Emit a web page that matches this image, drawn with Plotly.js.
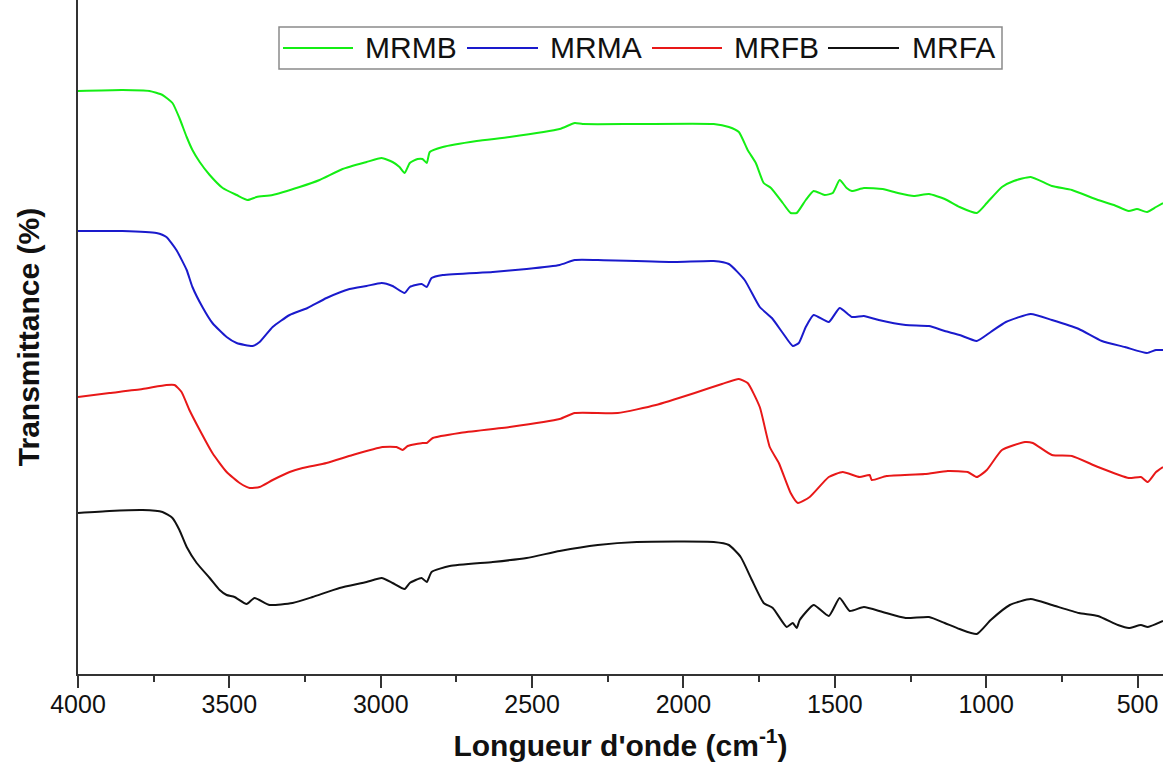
<!DOCTYPE html>
<html>
<head>
<meta charset="utf-8">
<script src="https://cdn.plot.ly/plotly-3.0.1.min.js"></script>
<style>html,body{margin:0;padding:0;background:#fff;}#chart{width:1163px;height:771px;}</style>
</head>
<body>
<div id="chart"></div>
<script>
// Wavenumbers (cm-1) and transmittance (arbitrary offset units)
const mrmbX = [4000,3853,3764,3721,3688,3665,3641,3622,3598,3565,3522,3476,3440,3410,3357,3268,3202,3126,3047,2997,2961,2938,2921,2904,2878,2862,2848,2838,2795,2683,2574,2409,2359,2333,2154,1900,1850,1817,1788,1761,1735,1711,1672,1646,1626,1596,1570,1534,1507,1484,1461,1444,1404,1342,1292,1239,1189,1137,1088,1031,998,948,909,853,783,717,631,578,529,502,469,439,416];
const mrmbY = [581,582,581,577,569,554,535,522,510,497,484,477,472,475,477,485,492,503,510,514,510,505,499,509,513,513,509,520,525,531,535,543,549,548,548,548,545,540,522,509,489,484,469,459,459,472,481,477,479,492,484,481,484,483,479,476,478,473,465,459,469,485,491,495,486,482,472,467,461,463,460,465,469];

const mrmaX = [4000,3853,3741,3708,3675,3641,3622,3589,3556,3509,3476,3423,3400,3357,3301,3242,3179,3103,3047,2997,2961,2921,2904,2865,2848,2832,2795,2630,2518,2409,2359,2283,2029,1900,1850,1798,1748,1708,1672,1639,1619,1596,1570,1520,1484,1444,1404,1355,1266,1189,1137,1088,1031,985,935,853,783,694,618,542,469,439,416];
const mrmaY = [441,441,439,435,422,402,385,365,349,335,329,326,330,345,357,364,374,383,386,389,386,379,385,388,385,394,397,400,403,407,412,412,410,411,408,392,365,354,339,326,329,345,357,350,364,355,356,352,347,346,341,337,331,340,350,358,352,343,331,325,319,322,322];

const mrfbX = [4000,3896,3787,3708,3681,3658,3632,3598,3556,3509,3466,3433,3400,3357,3301,3258,3179,3093,2994,2948,2928,2911,2862,2848,2828,2739,2574,2409,2359,2217,2091,1963,1873,1817,1788,1748,1715,1685,1646,1622,1583,1520,1474,1418,1385,1378,1329,1203,1127,1061,1031,998,948,872,846,783,717,631,529,489,466,439,416];
const mrfbY = [275,279,283,287,287,280,262,242,219,200,189,184,185,192,200,204,209,217,225,225,222,226,229,229,234,239,245,253,259,259,267,279,288,293,289,265,225,209,179,169,175,195,200,195,197,192,196,198,201,200,195,202,222,230,229,217,216,205,194,195,190,200,205];

const mrfaX = [4000,3896,3787,3721,3688,3665,3641,3608,3565,3532,3509,3483,3443,3417,3367,3291,3225,3136,3047,2997,2961,2921,2904,2865,2848,2832,2772,2630,2518,2409,2283,2154,1900,1850,1811,1774,1735,1705,1659,1639,1626,1616,1570,1520,1484,1451,1404,1342,1266,1189,1137,1088,1031,985,922,853,783,694,631,565,529,489,466,416];
const mrfaY = [159,161,162,160,154,142,125,109,94,82,77,75,68,74,67,69,75,84,90,94,89,83,89,94,90,100,106,110,114,121,127,130,130,127,115,92,69,64,45,49,44,52,67,56,74,61,65,60,54,55,49,43,38,52,67,73,67,59,56,47,44,47,45,51];

const seriesNames = ['MRMB','MRMA','MRFB','MRFA'];
const seriesColors = ['#14ee14','#1a1acc','#e81818','#111111'];
const xTickVals = [4000,3500,3000,2500,2000,1500,1000,500];

const xs = [mrmbX, mrmaX, mrfbX, mrfaX];
const ys = [mrmbY, mrmaY, mrfbY, mrfaY];

const font = 'Arial, "Liberation Sans", sans-serif';
const traces = seriesNames.map((n,i)=>({
  x: xs[i], y: ys[i], name: n, type: 'scatter', mode: 'lines',
  line: {color: seriesColors[i], width: 2, shape: 'spline', smoothing: 0.5}
}));

// Legend box drawn as layout decoration (pixel layout -> paper coords)
const W = 1163, H = 771, ML = 78, MB = 97;
const PW = W - ML, PH = H - MB;
const px = v => (v - ML) / PW;
const py = v => 1 - v / PH;
const legLines = [[283,353],[467,538],[652,722],[828,899]];
const legText = [363, 548, 732, 910];
const legY = 48;

const shapes = [{type:'rect', xref:'paper', yref:'paper', x0:px(279), x1:px(1002), y0:py(27), y1:py(69),
  line:{color:'#8a8a8a', width:1.5}, fillcolor:'#fff', layer:'above'}];
const annotations = [];
seriesNames.forEach((n,i)=>{
  shapes.push({type:'line', xref:'paper', yref:'paper', x0:px(legLines[i][0]), x1:px(legLines[i][1]), y0:py(legY), y1:py(legY),
    line:{color:seriesColors[i], width:2}, layer:'above'});
  annotations.push({text:n, xref:'paper', yref:'paper', x:px(legText[i]), y:py(legY-1), xanchor:'left', yanchor:'middle',
    showarrow:false, font:{size:30, family:font, color:'#111'}});
});

const layout = {
  width: W, height: H,
  margin: {l: ML, r: 0, t: 0, b: MB, pad: 0},
  paper_bgcolor: '#fff', plot_bgcolor: '#fff',
  font: {family: font, color: '#000'},
  showlegend: false,
  shapes: shapes, annotations: annotations,
  xaxis: {
    range: [4000, 416], tickvals: xTickVals, ticktext: xTickVals.map(String),
    ticks: 'outside', ticklen: 12, tickwidth: 2, tickcolor: '#333',
    ticklabelstandoff: -5,
    minor: {dtick: 250, tick0: 0, ticks: 'outside', ticklen: 6, tickwidth: 2, tickcolor: '#333'},
    showline: true, linecolor: '#333', linewidth: 2,
    showgrid: false, zeroline: false,
    tickfont: {size: 25, family: font, color: '#111'},
    title: {text: "<b>Longueur d'onde (cm<sup>-1</sup>)</b>", font: {size: 30, family: font, color: '#111'}, standoff: 18}
  },
  yaxis: {
    range: [-2, 672], showticklabels: false, ticks: '',
    showline: true, linecolor: '#333', linewidth: 2,
    showgrid: false, zeroline: false,
    title: {text: '<b>Transmittance (%)</b>', font: {size: 30, family: font, color: '#111'}, standoff: 28}
  }
};

Plotly.newPlot('chart', traces, layout, {displayModeBar: false, responsive: false});
</script>
</body>
</html>
